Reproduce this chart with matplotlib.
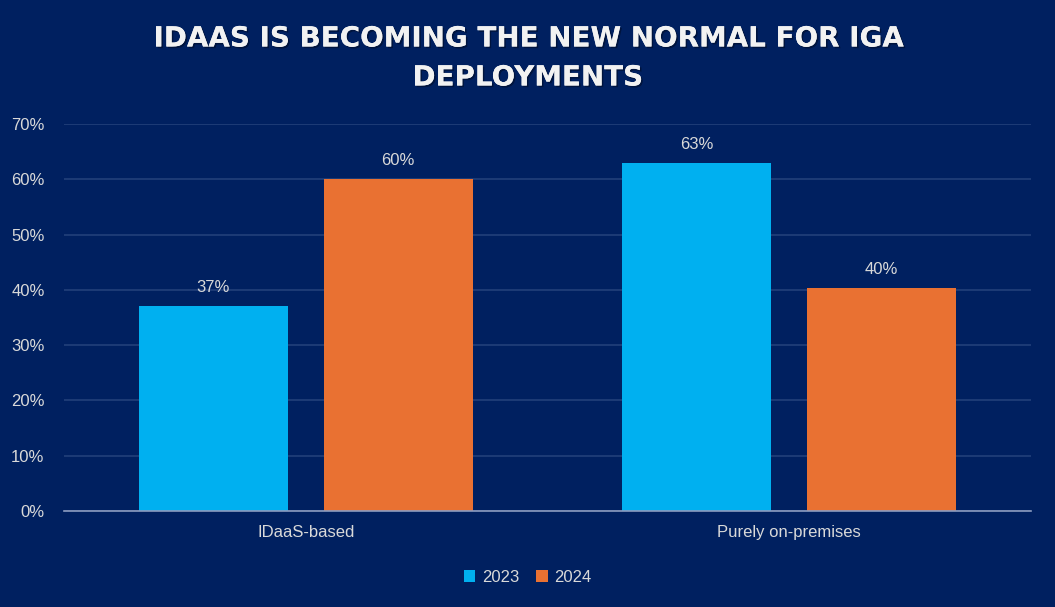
import numpy as np
import matplotlib.pyplot as plt
import matplotlib.patheffects as pe
from matplotlib.ticker import PercentFormatter

# data
categories = ['IDaaS-based', 'Purely on-premises']
series_names = ['2023', '2024']
values_2023 = [0.37, 0.63]
values_2024 = [0.60, 0.403]

bg = '#002060'
c_blue = '#00B0F0'
c_orange = '#E97132'
txt = '#D9D9D9'

plt.rcParams['font.family'] = ['Liberation Sans', 'DejaVu Sans']

fig = plt.figure(figsize=(10.55, 6.07), dpi=100, facecolor=bg)
ax = fig.add_axes([64 / 1055, 96 / 607, (1031 - 64) / 1055, (483 - 96) / 607])
ax.set_facecolor(bg)

x = np.arange(len(categories))
w = 0.308
off = 0.191
b1 = ax.bar(x - off, values_2023, w, color=c_blue, label=series_names[0], zorder=3)
b2 = ax.bar(x + off, values_2024, w, color=c_orange, label=series_names[1], zorder=3)

for bars in (b1, b2):
    for r in bars:
        h = r.get_height()
        ax.annotate(f'{h:.0%}', (r.get_x() + r.get_width() / 2, h),
                    xytext=(0, 8), textcoords='offset points',
                    ha='center', va='bottom', color=txt, fontsize=12)

ax.set_xlim(-0.5, 1.5)
ax.set_ylim(0, 0.7)
ax.set_yticks(np.arange(0, 0.71, 0.1))
ax.yaxis.set_major_formatter(PercentFormatter(1.0, decimals=0))
ax.set_xticks(x)
ax.set_xticklabels(categories)
ax.tick_params(axis='both', length=0, colors=txt, labelsize=12)
ax.tick_params(axis='y', pad=14)
ax.tick_params(axis='x', pad=10)
ax.grid(axis='y', color='#22407a', linewidth=1.2, zorder=0)
for s in ['top', 'right', 'left']:
    ax.spines[s].set_visible(False)
ax.spines['bottom'].set_color('#8C9CC0')
ax.spines['bottom'].set_linewidth(1.2)
ax.spines['bottom'].set_zorder(4)

leg = fig.legend(loc='center', bbox_to_anchor=(0.5, 1 - 577 / 607), ncol=2,
                 frameon=False, fontsize=12, handlelength=0.7, handleheight=0.7,
                 handletextpad=0.4, columnspacing=1.0)
for t in leg.get_texts():
    t.set_color(txt)

title = fig.text(0.5, 1 - 58 / 607, 'IDAAS IS BECOMING THE NEW NORMAL FOR IGA\nDEPLOYMENTS',
                 ha='center', va='center', color='#F2F2F2', fontsize=20,
                 fontweight='bold', family=['DejaVu Sans'], linespacing=1.5)
title.set_path_effects([pe.withSimplePatchShadow(offset=(1.2, -1.2), shadow_rgbFace='black', alpha=0.35), pe.Normal()])

fig.savefig('out.png', dpi=100, facecolor=bg)
